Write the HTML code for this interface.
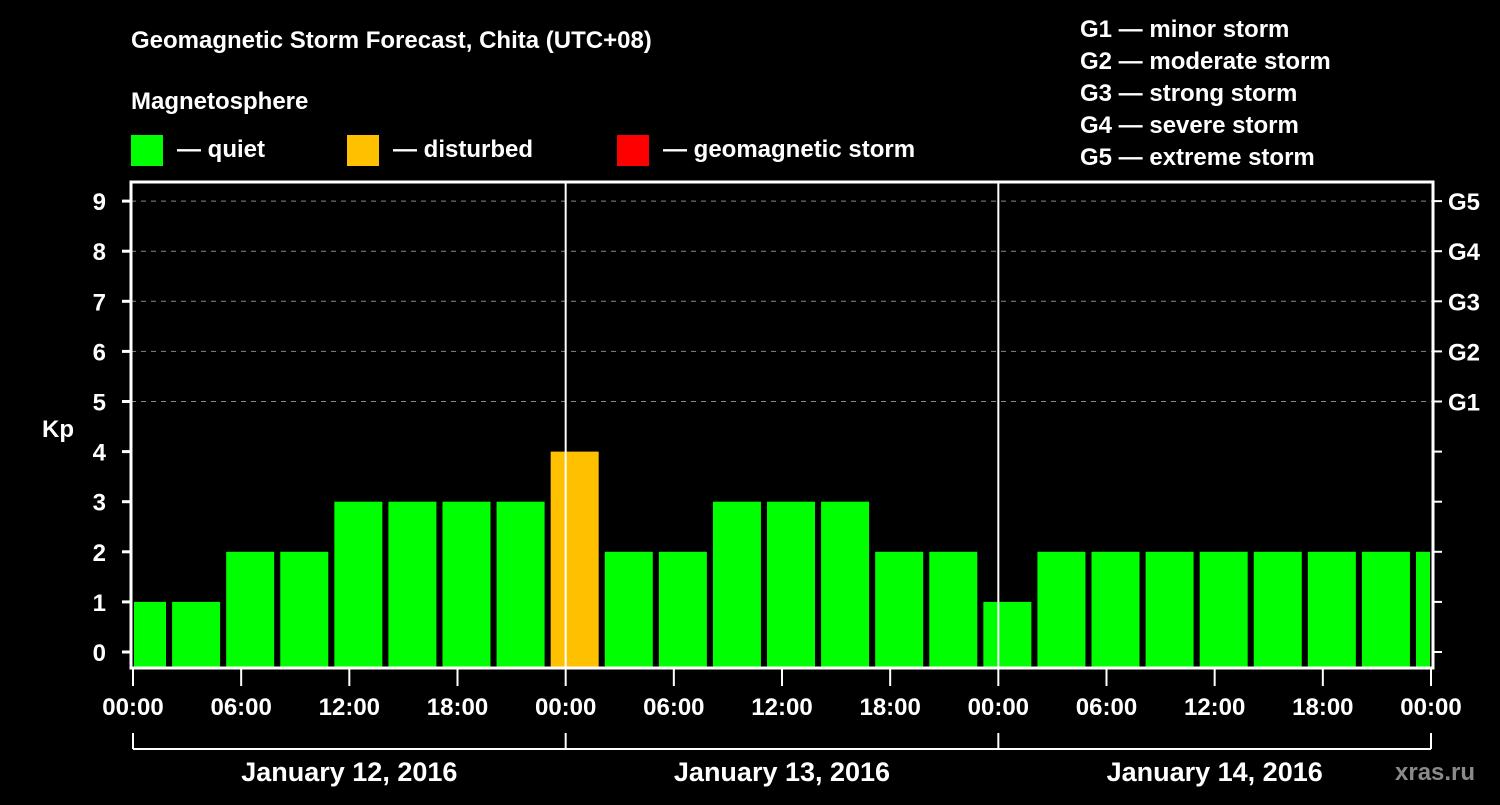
<!DOCTYPE html>
<html><head><meta charset="utf-8"><style>
html,body{margin:0;padding:0;background:#000;}
svg text{font-family:"Liberation Sans",sans-serif;font-weight:bold;fill:#fff;}
</style></head><body>
<svg id="chart" width="1500" height="800" xmlns="http://www.w3.org/2000/svg">
<rect width="1500" height="800" fill="#000"/>
<text x="131" y="48" font-size="24">Geomagnetic Storm Forecast, Chita (UTC+08)</text>
<text x="131" y="109" font-size="24">Magnetosphere</text>
<g>
<rect x="131" y="135" width="32" height="31" fill="#00ff00"/>
<text x="177" y="157" font-size="24">— quiet</text>
<rect x="347" y="135" width="32" height="31" fill="#ffc000"/>
<text x="393" y="157" font-size="24">— disturbed</text>
<rect x="617" y="135" width="32" height="31" fill="#ff0000"/>
<text x="663" y="157" font-size="24">— geomagnetic storm</text>
</g>
<g font-size="24">
<text x="1080" y="37">G1 — minor storm</text>
<text x="1080" y="69">G2 — moderate storm</text>
<text x="1080" y="101">G3 — strong storm</text>
<text x="1080" y="133">G4 — severe storm</text>
<text x="1080" y="165">G5 — extreme storm</text>
</g>
<text x="42" y="437" font-size="24">Kp</text>
<text x="1395" y="780" font-size="24" fill="#888" style="fill:#8a8a8a">xras.ru</text>
<g id="grid"></g><g id="bars"></g><g id="axes"></g>
</svg>
<script>
const kpValues=[1,1,2,2,3,3,3,3,4,2,2,3,3,3,2,2,1,2,2,2,2,2,2,2,2];
const yTicks=[0,1,2,3,4,5,6,7,8,9];
const gLabels=["G1","G2","G3","G4","G5"];
const gLevels=[5,6,7,8,9];
const xTickLabels=["00:00","06:00","12:00","18:00","00:00","06:00","12:00","18:00","00:00","06:00","12:00","18:00","00:00"];
const dayLabels=["January 12, 2016","January 13, 2016","January 14, 2016"];
const NS="http://www.w3.org/2000/svg";
const L=131,R=1433,T=182,B=668,X0=133,X1=1431;
function xs(h){return X0+(X1-X0)*h/72;}
function ys(v){return 652-(v)*50.1;}
function mk(tag,attrs,parent){const e=document.createElementNS(NS,tag);for(const k in attrs)e.setAttribute(k,attrs[k]);parent.appendChild(e);return e;}
const grid=document.getElementById('grid'),bars=document.getElementById('bars'),axes=document.getElementById('axes');
gLevels.forEach((v,i)=>{
 const ln=mk('line',{x1:L,x2:R,y1:ys(v),y2:ys(v),stroke:'#888','stroke-dasharray':'5,5','stroke-width':1},grid);
 
 
 const t=mk('text',{x:1448,y:ys(v)+9,'font-size':24},axes);t.textContent=gLabels[i];
 
 
});
const cp=mk('clipPath',{id:'clip'},bars);mk('rect',{x:L+3,y:T,width:R-L-6,height:B-T},cp);
const bg=mk('g',{'clip-path':'url(#clip)'},bars);
kpValues.forEach((v,i)=>{
 const c=xs(0.5+3*i);
 const col=v>=5?'#ff0000':(v>=4?'#ffc000':'#00ff00');
 const r=mk('rect',{x:c-24,y:ys(v),width:48,height:B-ys(v),fill:col},bg);
 
 
});
[24,48].forEach(h=>{const l=mk('line',{x1:xs(h),x2:xs(h),y1:T,y2:B,stroke:'#fff','stroke-width':2},axes);
 
 });
const fr=mk('rect',{x:L,y:T,width:R-L,height:B-T,fill:'none',stroke:'#fff','stroke-width':3},axes);


yTicks.forEach(v=>{
 mk('line',{x1:L-9,x2:L,y1:ys(v),y2:ys(v),stroke:'#fff','stroke-width':3},axes);
 mk('line',{x1:R,x2:R+9,y1:ys(v),y2:ys(v),stroke:'#fff','stroke-width':2},axes);
 const t=mk('text',{x:106,y:ys(v)+9,'font-size':24,'text-anchor':'end'},axes);t.textContent=v;
 
 
});
xTickLabels.forEach((s,i)=>{
 const x=xs(i*6);
 mk('line',{x1:x,x2:x,y1:B,y2:B+18,stroke:'#fff','stroke-width':2},axes);
 const t=mk('text',{x:x,y:715,'font-size':24,'text-anchor':'middle'},axes);t.textContent=s;
 
 
});
mk('line',{x1:xs(0),x2:xs(72),y1:749,y2:749,stroke:'#fff','stroke-width':2},axes);
[0,24,48,72].forEach(h=>mk('line',{x1:xs(h),x2:xs(h),y1:733,y2:749,stroke:'#fff','stroke-width':2},axes));
dayLabels.forEach((s,i)=>{
 const t=mk('text',{x:xs(12+24*i),y:781,'font-size':27,'text-anchor':'middle'},axes);t.textContent=s;
 
 
});
</script>
</body></html>
